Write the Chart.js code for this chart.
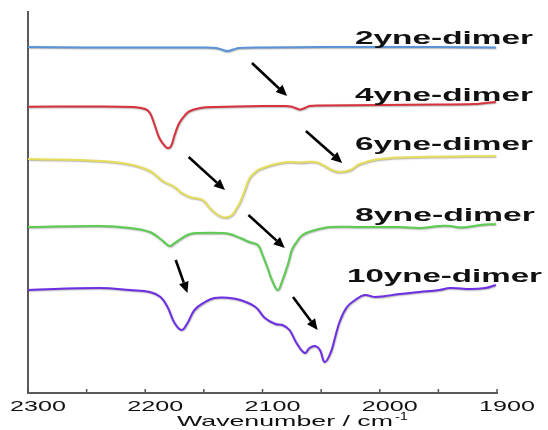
<!DOCTYPE html>
<html>
<head>
<meta charset="utf-8">
<script src="https://cdn.jsdelivr.net/npm/chart.js@4.4.1/dist/chart.umd.min.js"></script>
<style>
  html, body { margin: 0; padding: 0; background: #ffffff; }
  #wrap { width: 548px; height: 430px; position: relative; }
</style>
</head>
<body>
<div id="wrap"><canvas id="c"></canvas></div>
<script>
// ---- Data (wavenumber in cm-1, stacked absorbance-like offsets in arbitrary units) ----
const seriesNames = ["2yne-dimer", "4yne-dimer", "6yne-dimer", "8yne-dimer", "10yne-dimer"];
const seriesColors = ["#5b93d8", "#d8333d", "#e6de58", "#5ccd52", "#6e2fe4"];

const wn2 = [2300,2250,2200,2150,2140,2135,2130,2125,2120,2100,2050,2000,1950,1901];
const y2  = [346,345.5,345.5,345.5,345,343.5,342,343.5,345,345.5,346,346,346,345.5];

const wn4 = [2300,2250,2210,2200,2196,2192,2188,2184,2181,2178,2175,2171,2166,2162,2153,2140,2100,2080,2076,2072,2068,2064,2060,2050,2000,1950,1920,1910,1901];
const y4  = [286.3,286.5,286,284,280,268,255,248,245,247,258,270,278,282,285,286,287,287,286.5,285,283.5,285,287,287.5,288,288.5,289,290,291];

const wn6 = [2300,2239,2213,2196,2185,2175,2170,2162,2158,2151,2145,2138,2132,2126,2122,2119,2115,2111,2106,2102,2089,2077,2068,2055,2047,2041,2034,2025,2017,2000,1966,1901];
const y6  = [234,232,228.5,222,212,206,201,196,195,193,185,178,175.5,178,185,191,203,215,221,224,229,231,230.5,231,227,223,221,223,229,234,236,237];

const wn8 = [2300,2239,2213,2196,2187,2183,2179,2175,2170,2162,2153,2136,2128,2119,2111,2104,2100,2096,2092,2087,2083,2078,2075,2071,2066,2055,2042,2017,1983,1966,1949,1940,1931,1914,1901];
const y8  = [166,167,165,161,154,150,147,150,154,159,160,160,159,155,151,148,138,126,113,103,113,130,143,151,158,163,166,166,166,165,167,167,165.5,168,169];

const wn10 = [2300,2239,2213,2196,2187,2181,2175,2169,2164,2158,2149,2141,2128,2119,2106,2098,2089,2083,2077,2071,2064,2060,2055,2051,2047,2042,2038,2034,2028,2021,2013,2004,1983,1966,1949,1940,1923,1910,1901];
const y10  = [103,105,103,101,96,86,70,63,70,83,91,95,95,93,86,75,69,68,63,50,40,45,47,43,31,40,56,72,86,93,98,96,99,101,103,105,104,105,108];

// label vertical anchors in data units
const labelY = [354, 297, 248, 177, 116];

// x-axis ticks
const xMajorTicks = [2300, 2200, 2100, 2000, 1900];
const xMinorTicks = [2250, 2150, 2050, 1950];

// arrows: start and tip, in data units
const arrowStartWn = [2109, 2063, 2163, 2112, 2174, 2074];
const arrowStartY  = [330, 262, 236, 178, 133, 96];
const arrowTipWn   = [2079, 2032, 2132, 2081, 2164, 2053];
const arrowTipY    = [297, 230, 203, 145, 100, 63];

const xs = [wn2, wn4, wn6, wn8, wn10];
const ys = [y2, y4, y6, y8, y10];

const datasets = seriesNames.map((name, i) => ({
  label: name,
  data: xs[i].map((w, j) => ({ x: w, y: ys[i][j] })),
  borderColor: seriesColors[i],
  borderWidth: 2,
  pointRadius: 0,
  fill: false,
  tension: 0.4
}));

const FONT = '"Liberation Sans", Arial, Helvetica, sans-serif';

// draw text horizontally stretched to fill [x0, x1], vertically centred at y
function fitText(ctx, text, x0, x1, y) {
  const w = ctx.measureText(text).width;
  ctx.save();
  ctx.translate(x0, y);
  ctx.scale((x1 - x0) / w, 1);
  ctx.textAlign = 'left';
  ctx.textBaseline = 'middle';
  ctx.fillText(text, 0, 0);
  ctx.restore();
}

// pixel spans of the series labels
const labelSpans = [[355, 533], [355, 533], [355, 533], [355, 535], [347, 542]];

const shadowPlugin = {
  id: 'shadow',
  beforeDatasetsDraw(chart) {
    const ctx = chart.ctx;
    ctx.save();
    ctx.shadowColor = 'rgba(0,0,0,0.35)';
    ctx.shadowBlur = 1.5;
    ctx.shadowOffsetX = 0.5;
    ctx.shadowOffsetY = 0.8;
  },
  afterDatasetsDraw(chart) {
    chart.ctx.restore();
  }
};

const decoPlugin = {
  id: 'deco',
  afterDraw(chart) {
    const ctx = chart.ctx;
    const xS = chart.scales.x, yS = chart.scales.y;
    const area = chart.chartArea;
    ctx.save();
    // tick marks (inward, upward)
    ctx.strokeStyle = '#555';
    ctx.lineWidth = 1.5;
    [...xMajorTicks, ...xMinorTicks].forEach(t => {
      const px = xS.getPixelForValue(t);
      ctx.beginPath();
      ctx.moveTo(px, area.bottom);
      ctx.lineTo(px, area.bottom - 4);
      ctx.stroke();
    });
    // tick labels
    ctx.fillStyle = '#111';
    ctx.font = '15px ' + FONT;
    xMajorTicks.forEach(t => {
      const px = xS.getPixelForValue(t) + 10;
      fitText(ctx, String(t), px - 28, px + 28, area.bottom + 14);
    });
    // axis title
    ctx.font = '15px ' + FONT;
    fitText(ctx, 'Wavenumber / cm', 177, 393, area.bottom + 29);
    ctx.font = '10px ' + FONT;
    fitText(ctx, '-1', 395, 408, area.bottom + 24);
    // series labels
    ctx.font = 'bold 19px ' + FONT;
    ctx.fillStyle = '#111';
    seriesNames.forEach((n, i) => {
      fitText(ctx, n, labelSpans[i][0], labelSpans[i][1], yS.getPixelForValue(labelY[i]));
    });
    // arrows
    ctx.strokeStyle = '#000';
    ctx.fillStyle = '#000';
    ctx.lineWidth = 2.6;
    arrowStartWn.forEach((sw, i) => {
      const x1 = xS.getPixelForValue(sw), y1 = yS.getPixelForValue(arrowStartY[i]);
      const x2 = xS.getPixelForValue(arrowTipWn[i]), y2p = yS.getPixelForValue(arrowTipY[i]);
      const ang = Math.atan2(y2p - y1, x2 - x1);
      const hl = 11, hw = 5;
      const bx = x2 - hl * Math.cos(ang), by = y2p - hl * Math.sin(ang);
      ctx.beginPath();
      ctx.moveTo(x1, y1);
      ctx.lineTo(bx, by);
      ctx.stroke();
      ctx.beginPath();
      ctx.moveTo(x2, y2p);
      ctx.lineTo(bx + hw * Math.sin(ang), by - hw * Math.cos(ang));
      ctx.lineTo(bx - hw * Math.sin(ang), by + hw * Math.cos(ang));
      ctx.closePath();
      ctx.fill();
    });
    ctx.restore();
  }
};

new Chart(document.getElementById('c'), {
  type: 'line',
  data: { datasets },
  options: {
    responsive: true,
    maintainAspectRatio: false,
    animation: false,
    layout: { padding: { left: 28, right: 51, top: 12, bottom: 0 } },
    plugins: { legend: { display: false }, tooltip: { enabled: false } },
    scales: {
      x: {
        type: 'linear',
        reverse: true,
        min: 1900,
        max: 2300,
        ticks: { display: false },
        grid: { display: false, drawTicks: false },
        border: { display: true, color: '#5a5a5a', width: 2 },
        afterFit(s) { s.height = 37; }
      },
      y: {
        min: 0,
        max: 381,
        ticks: { display: false },
        grid: { display: false, drawTicks: false },
        border: { display: true, color: '#5a5a5a', width: 2 },
        afterFit(s) { s.width = 0; }
      }
    }
  },
  plugins: [shadowPlugin, decoPlugin]
});
</script>
</body>
</html>
